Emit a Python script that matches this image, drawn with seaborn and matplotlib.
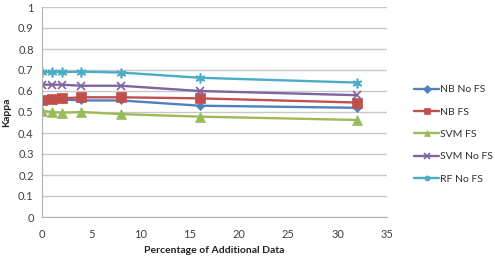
import numpy as np
import pandas as pd
import matplotlib
matplotlib.use("Agg")
import matplotlib.pyplot as plt
import seaborn as sns

x_pct = [0, 1, 2, 4, 8, 16, 32]
series_names = ["NB No FS", "NB FS", "SVM FS", "SVM No FS", "RF No FS"]
nb_no_fs = [0.555, 0.555, 0.56, 0.555, 0.555, 0.53, 0.52]
nb_fs = [0.555, 0.56, 0.565, 0.57, 0.57, 0.565, 0.545]
svm_fs = [0.505, 0.50, 0.497, 0.50, 0.49, 0.478, 0.462]
svm_no_fs = [0.63, 0.63, 0.63, 0.625, 0.625, 0.60, 0.58]
rf_no_fs = [0.69, 0.69, 0.69, 0.692, 0.688, 0.663, 0.64]

values = [nb_no_fs, nb_fs, svm_fs, svm_no_fs, rf_no_fs]
rows = []
for name, vals in zip(series_names, values):
    for xv, yv in zip(x_pct, vals):
        rows.append({"x": xv, "Kappa": yv, "series": name})
df = pd.DataFrame(rows)

colors = ["#4F81BD", "#C0504D", "#9BBB59", "#8064A2", "#4BACC6"]
markers = ["D", "s", "^", "x", (6, 2, 0)]
msizes = [4.5, 7, 6.5, 6, 7]

sns.set_style("white")
plt.rcParams['font.family'] = ['Lato', 'DejaVu Sans']

fig = plt.figure(figsize=(4.95, 2.66), dpi=100)
ax = fig.add_axes([42/495, 1-217/266, (387-42)/495, (217-7)/266])

sns.lineplot(data=df, x="x", y="Kappa", hue="series", hue_order=series_names,
             palette=colors, ax=ax, legend=False, linewidth=1.7, sort=False)
for i, name in enumerate(series_names):
    ax.lines[i].set_marker(markers[i])
    ax.lines[i].set_markersize(msizes[i])
    ax.lines[i].set_markeredgecolor(colors[i])
    ax.lines[i].set_markeredgewidth(1.2 if i >= 3 else 0.5)
    ax.lines[i].set_label(name)

ax.set_xlim(0, 35)
ax.set_ylim(0, 1)
ax.set_xticks(range(0, 36, 5))
ax.set_yticks(np.arange(0, 1.01, 0.1))
ax.set_yticklabels(["0", "0.1", "0.2", "0.3", "0.4", "0.5", "0.6", "0.7", "0.8", "0.9", "1"])
ax.yaxis.grid(True, color="#c8c8c8", linewidth=1)
ax.set_axisbelow(True)
for s in ["top", "right"]:
    ax.spines[s].set_visible(False)
ax.spines["left"].set_color("#b0b0b0")
ax.spines["bottom"].set_color("#b0b0b0")
ax.tick_params(axis="both", labelsize=8, colors="#404040", length=0, pad=6)
ax.tick_params(axis="x", pad=9)
ax.set_xlabel("Percentage of Additional Data", fontsize=7.5, fontweight="bold", color="#202020", labelpad=4)
ax.set_ylabel("Kappa", fontsize=7.5, fontweight="bold", color="#202020", labelpad=5)

handles = ax.lines[:5]
leg = fig.legend(handles, series_names, loc="upper left", bbox_to_anchor=(410/495, 1-81/266),
                 frameon=False, fontsize=7.5, handlelength=2.4, labelspacing=1.25,
                 handletextpad=0.1, borderaxespad=0)
for t in leg.get_texts():
    t.set_color("#303030")
for h in leg.legend_handles:
    h.set_markersize(4)

fig.savefig("out.png", dpi=100)
